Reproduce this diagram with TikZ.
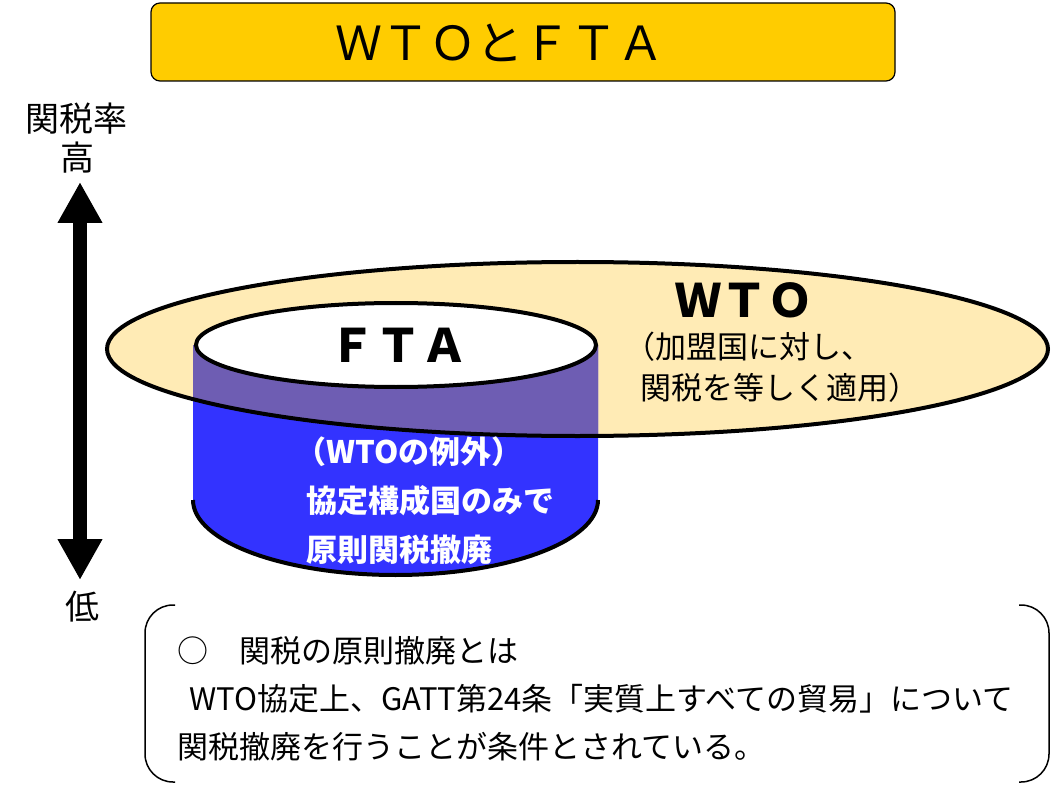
\documentclass[tikz,border=0pt]{standalone}
\usepackage{fontspec}
\setmainfont{Noto Sans CJK JP}
\usetikzlibrary{arrows.meta,positioning}

\definecolor{titlegold}{HTML}{FFCC00}
\definecolor{wtotan}{HTML}{FFEBB5}
\definecolor{ftablue}{HTML}{3333FF}
\definecolor{ftapurple}{HTML}{6E5DB3}

\begin{document}
\begin{tikzpicture}[x=1pt,y=-1pt,
  titlebox/.style={draw, line width=1.2pt, fill=titlegold, rounded corners=9pt,
    minimum width=744pt, minimum height=78pt, inner sep=0pt},
  titletext/.style={inner sep=0pt, font=\fontsize{47}{50}\selectfont},
  biglabel/.style={inner sep=0pt, font=\fontsize{46}{50}\selectfont\bfseries},
  axislabel/.style={inner sep=0pt, font=\fontsize{34}{36}\selectfont},
  wtonote/.style={inner sep=0pt, anchor=west, font=\fontsize{31}{34}\selectfont},
  ftanote/.style={inner sep=0pt, anchor=west, text=white, font=\fontsize{31}{34}\selectfont\bfseries},
  notetext/.style={inner sep=0pt, anchor=west, font=\fontsize{31}{34}\selectfont}]
\useasboundingbox (0,0) rectangle (1052,786);

% Title
\node[titlebox] (title) at (523,42) {};
\node[titletext] (titlelbl) at (500,43) {ＷＴＯとＦＴＡ};

% Tariff axis
\node[axislabel] (axis) at (76,119) {関税率};
\node[axislabel] (hi) at (77,158) {高};
\node[axislabel] (lo) at (82,607) {低};
\coordinate (ahi) at (80,182);
\coordinate (alo) at (80,580);
\draw[line width=14pt, {Triangle[length=41pt,width=42pt]}-{Triangle[length=41pt,width=42pt]}] (ahi) -- (alo);

% WTO ellipse (fill only)
\fill[wtotan] (577.5,349) ellipse [x radius=470.5, y radius=87];

% FTA cylinder body
\fill[ftablue] (193,345) -- (193,500) arc[start angle=180, end angle=0, x radius=202.5, y radius=75] -- (598,345) -- cycle;
\begin{scope}
\clip (577.5,349) ellipse [x radius=470.5, y radius=87];
\fill[ftapurple] (193,345) -- (193,500) arc[start angle=180, end angle=0, x radius=202.5, y radius=75] -- (598,345) -- cycle;
\end{scope}

% outlines
\draw[line width=4pt] (577.5,349) ellipse [x radius=470.5, y radius=87];
\draw[line width=4pt] (193,500) arc[start angle=180, end angle=0, x radius=202.5, y radius=75];
\draw[line width=4pt, fill=white] (396,345) ellipse [x radius=200, y radius=42];

% Labels
\node[biglabel] (fta) at (398,345) {ＦＴＡ};
\node[biglabel] (wto) at (744,300) {ＷＴＯ};
\node[wtonote] (wto1) at (624,347) {（加盟国に対し、};
\node[wtonote] (wto2) at (640,388) {関税を等しく適用）};

\node[ftanote] (exc1) at (295,452) {（WTOの例外）};
\node[ftanote] (exc2) at (306,501) {協定構成国のみで};
\node[ftanote] (exc3) at (306,550) {原則関税撤廃};

% Note box
\draw[line width=1.5pt, rounded corners=28pt] (175,605) -- (145,605) -- (145,782) -- (175,782);
\draw[line width=1.5pt, rounded corners=28pt] (1019,605) -- (1049,605) -- (1049,782) -- (1019,782);
\node[notetext] (note1) at (177,651) {○　関税の原則撤廃とは};
\node[notetext] (note2) at (189,699) {WTO協定上、GATT第24条「実質上すべての貿易」について};
\node[notetext] (note3) at (177,747) {関税撤廃を行うことが条件とされている。};

\end{tikzpicture}
\end{document}
